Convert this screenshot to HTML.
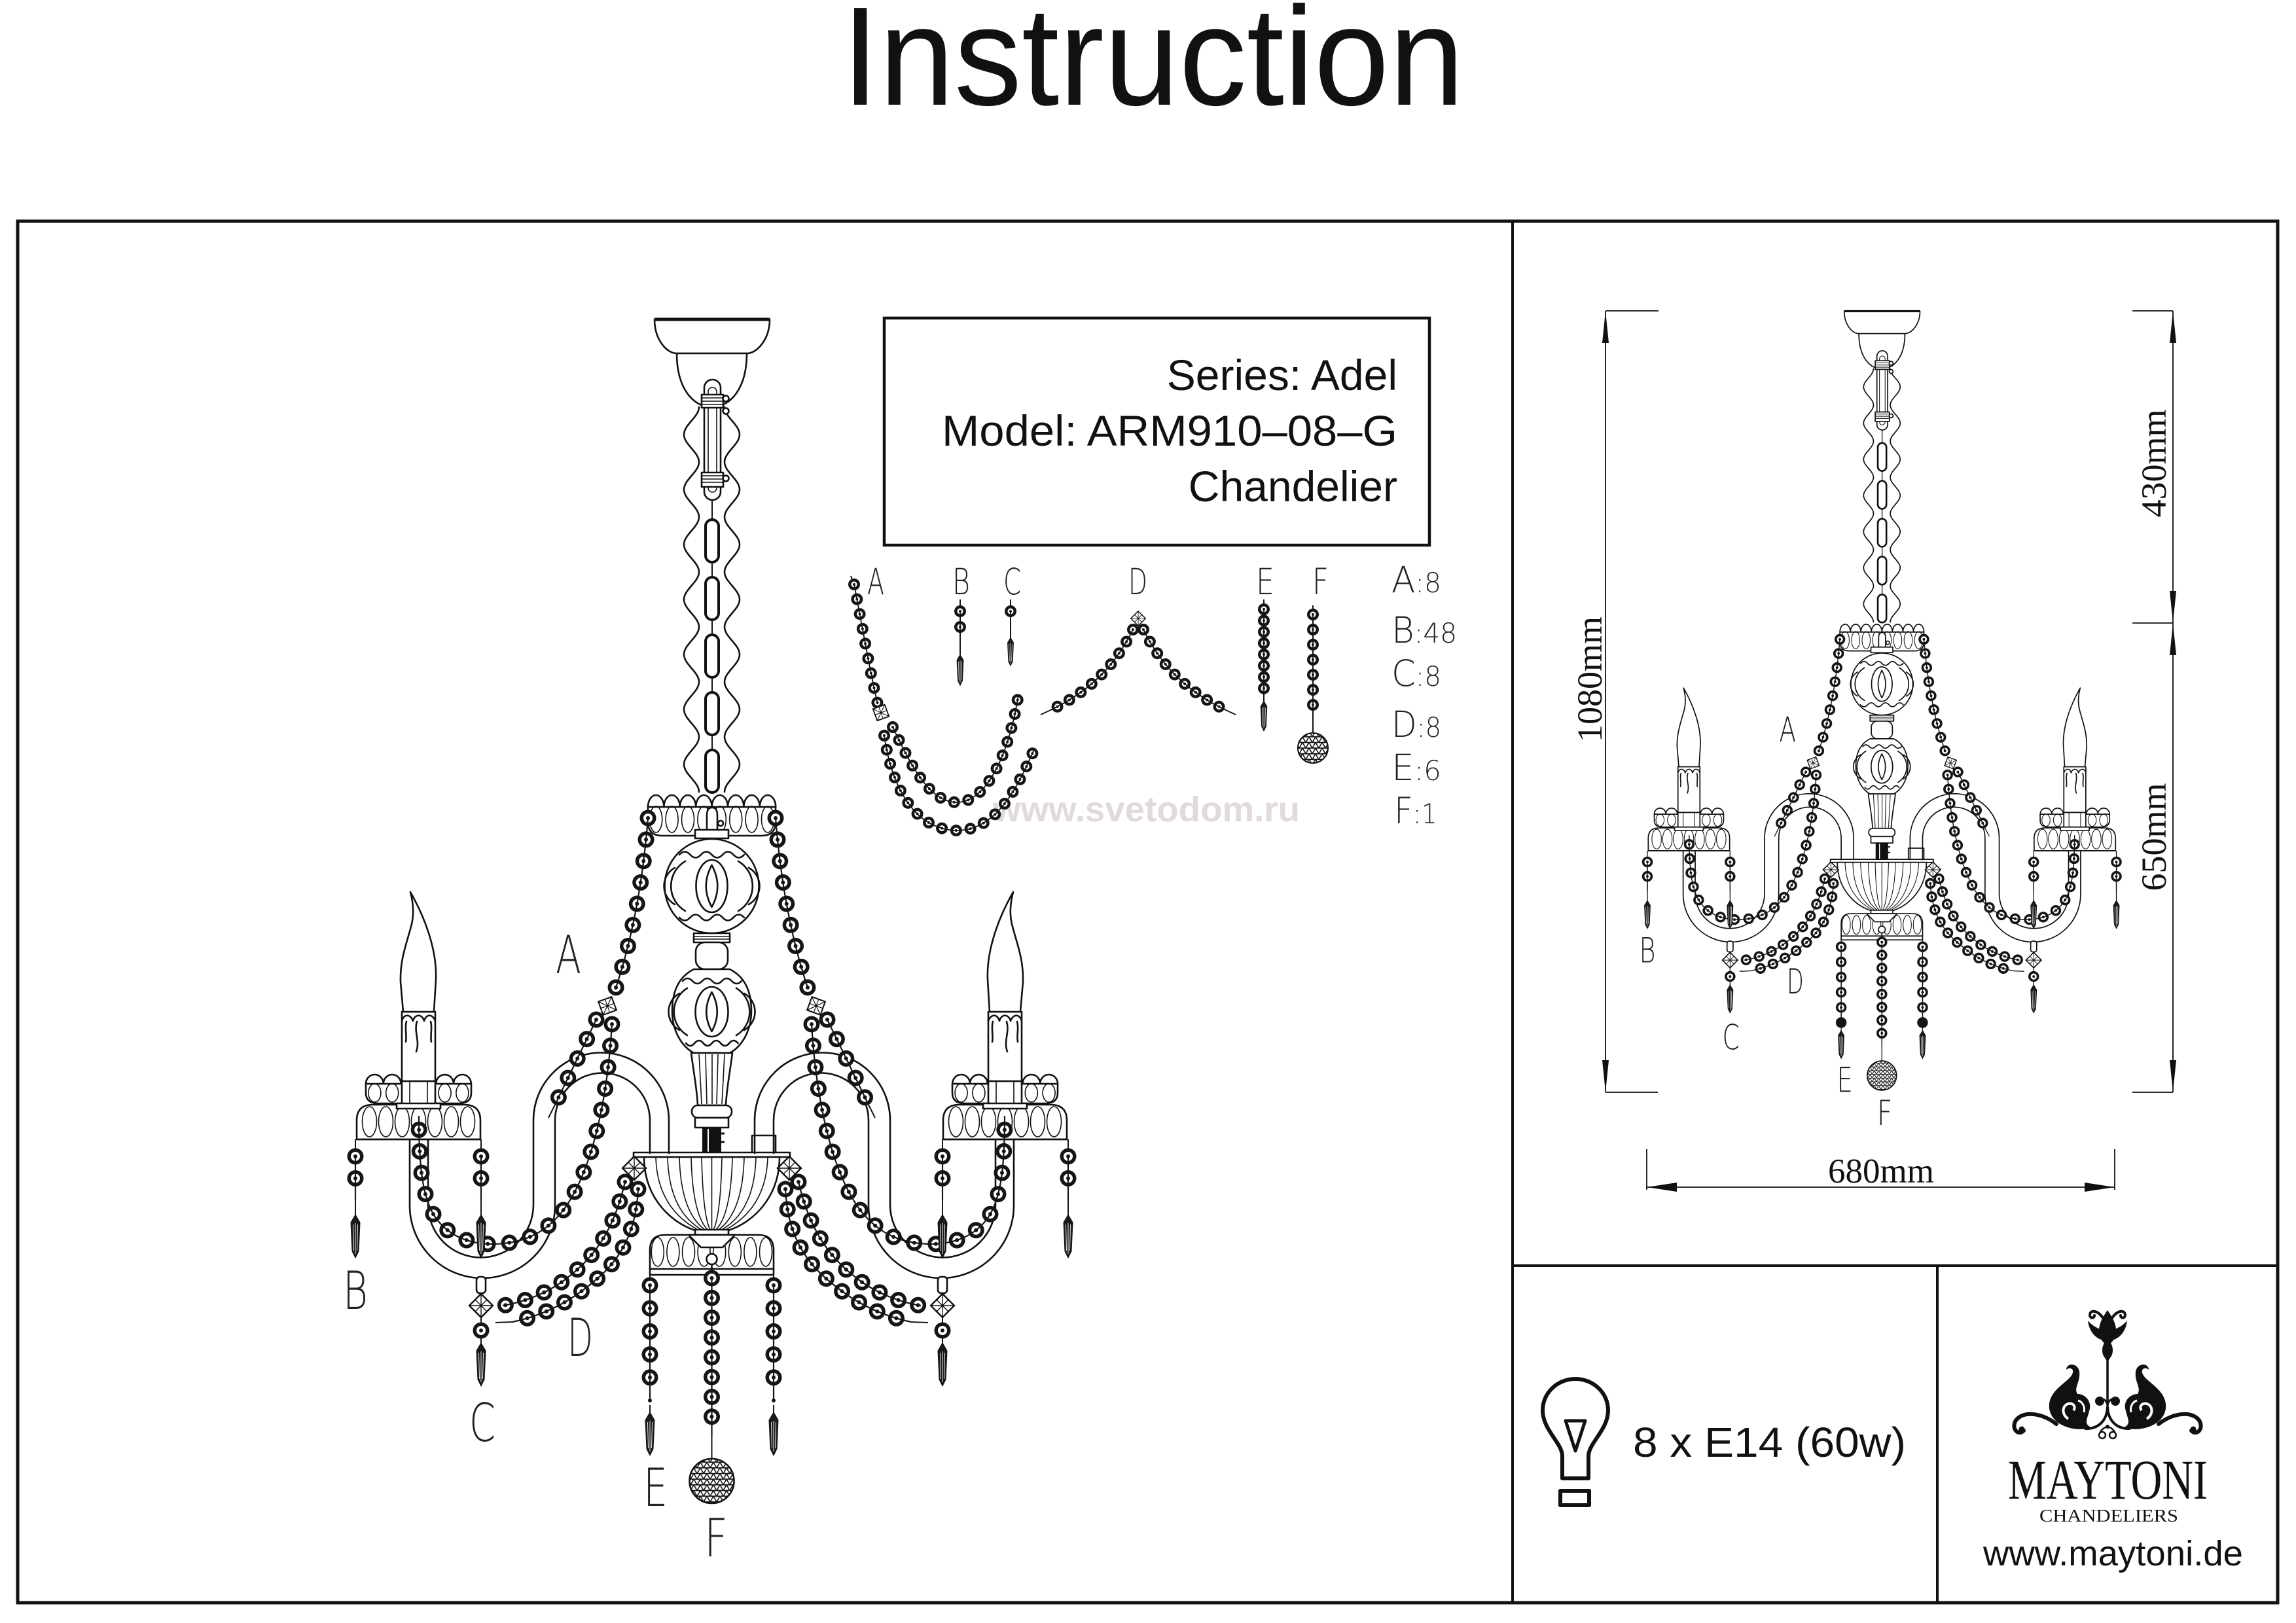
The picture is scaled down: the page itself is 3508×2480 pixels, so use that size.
<!DOCTYPE html>
<html><head><meta charset="utf-8"><title>Instruction</title>
<style>
html,body{margin:0;padding:0;background:#fff;width:3508px;height:2480px;overflow:hidden}
svg{display:block}
.ln{fill:none;stroke:#111;stroke-width:2.6;stroke-linejoin:round;stroke-linecap:round}
.lt{fill:none;stroke:#111;stroke-width:1.6}
.lw{fill:#fff;stroke:#111;stroke-width:2.6;stroke-linejoin:round}
.thr{fill:none;stroke:#151515;stroke-width:2}
.bA{fill:none;stroke:#151515;stroke-width:25;stroke-linecap:round;--on:0}
.bB{fill:none;stroke:#fff;stroke-width:14;stroke-linecap:round;--on:0}
.bC{fill:none;stroke:#151515;stroke-width:6;stroke-linecap:round;--on:0}
.bT{fill:none;stroke:#151515;stroke-width:2.2;stroke-linecap:butt;--on:5000}
.lA{fill:none;stroke:#151515;stroke-width:18;stroke-linecap:round;--on:0}
.lB{fill:none;stroke:#fff;stroke-width:9;stroke-linecap:round;--on:0}
.lC{fill:none;stroke:#151515;stroke-width:4;stroke-linecap:round;--on:0}
.lT{fill:none;stroke:#151515;stroke-width:1.8;stroke-linecap:butt;--on:5000}
.cad{font-family:"DejaVu Sans","Liberation Sans",sans-serif;font-weight:200;fill:#222}
.sans{font-family:"Liberation Sans",Arial,sans-serif;fill:#111}
.serif{font-family:"Liberation Serif","Times New Roman",serif;fill:#111}
</style></head>
<body>
<svg width="3508" height="2480" viewBox="0 0 3508 2480" xmlns="http://www.w3.org/2000/svg" xmlns:xlink="http://www.w3.org/1999/xlink">
<defs>
<g id="drop"><path d="M0,0 L7,12 L5,56 L0,66 L-5,56 L-7,12 Z" fill="#1a1a1a" stroke="#111" stroke-width="1"/><path d="M0,13 V60 M-3.5,15 L-2.5,55 M3.5,15 L2.5,55" stroke="#fff" stroke-width="0.9" fill="none"/></g>
<g id="dia"><path d="M0,-18 L18,0 L0,18 L-18,0 Z" fill="#fff" stroke="#111" stroke-width="2.4"/><path d="M-18,0 H18 M0,-18 V18 M-9,-9 L9,9 M9,-9 L-9,9" stroke="#111" stroke-width="1.4" fill="none"/></g>
<pattern id="mesh" width="10" height="8.66" patternUnits="userSpaceOnUse"><rect width="10" height="8.66" fill="#fff"/><path d="M0,0 H10 M0,0 L5,8.66 L10,0 M0,8.66 H10" stroke="#111" stroke-width="1.6" fill="none"/></pattern>

<g id="bm">
<path style="stroke-dasharray:var(--on) 33" d="M990,1250 Q978,1400 940,1512"/>
<path style="stroke-dasharray:var(--on) 33" d="M935,1565 C928,1680 905,1790 860,1850 C830,1888 795,1900 754,1901 C715,1901 685,1888 665,1860 C645,1830 640,1780 640,1705"/>
<path style="stroke-dasharray:var(--on) 33" d="M911,1558 L848,1688"/>
<path style="stroke-dasharray:var(--on) 31" d="M955,1806 C940,1870 915,1915 870,1950 C840,1975 800,1990 768,1995"/>
<path style="stroke-dasharray:var(--on) 31" d="M975,1817 C972,1880 950,1925 905,1960 C870,1990 830,2010 783,2020"/>
<path style="stroke-dasharray:var(--on) 33.5" d="M543,1767 V1834"/>
<path style="stroke-dasharray:var(--on) 33.5" d="M735,1767 V1834"/>
<path style="stroke-dasharray:var(--on) 33" d="M735,2033 V2033.5"/>
<path style="stroke-dasharray:var(--on) 35.2" d="M993,1964 V2140"/>
</g>
<g id="bc">
<path style="stroke-dasharray:var(--on) 30.25" d="M1087.5,1953 V2195"/>
</g>
<g id="bl">
<path style="stroke-dasharray:var(--on) 23" d="M1305,893 C1318,960 1330,1030 1341,1076"/>
<path style="stroke-dasharray:var(--on) 22" d="M1351,1124 C1362,1200 1395,1266 1460,1269 C1520,1270 1552,1210 1581,1143"/>
<path style="stroke-dasharray:var(--on) 22" d="M1364,1111 C1392,1170 1420,1226 1462,1226 C1505,1226 1540,1160 1556,1062"/>
<path style="stroke-dasharray:var(--on) 24" d="M1467,934 V982"/>
<path style="stroke-dasharray:var(--on) 21" d="M1544,934 V955"/>
<path style="stroke-dasharray:var(--on) 21" d="M1731,962 C1712,1000 1680,1050 1603,1086"/>
<path style="stroke-dasharray:var(--on) 21" d="M1747,962 C1766,1000 1798,1050 1875,1086"/>
<path style="stroke-dasharray:var(--on) 17.25" d="M1931,931 V1069"/>
<path style="stroke-dasharray:var(--on) 23" d="M2006,939 V1100"/>
</g>

<g id="half">
<path class="ln" d="M626,1741 V1842 A111,111 0 0 0 848,1842 V1712 A72.5,72.5 0 0 1 993,1712 V1762"/>
<path class="ln" d="M654,1741 V1841 A80.5,80.5 0 0 0 815,1841 V1712 A103.5,103.5 0 0 1 1022,1712 V1762"/>
<path class="thr" d="M543,1741 V1860 M735,1741 V1860 M735,1975 V2055 M993,1948 V2160 M848,1688 L838,1708 M783,2020 L757,2021"/>
<rect class="lw" x="728" y="1951" width="14" height="25" rx="5"/>
<path class="lw" d="M545,1741 V1712 Q545,1688 570,1688 H709 Q734,1688 734,1712 V1741 Z"/>
<g class="lt">
<ellipse cx="564.5" cy="1714" rx="11" ry="23"/><ellipse cx="589.5" cy="1714" rx="11" ry="23"/><ellipse cx="614.5" cy="1714" rx="11" ry="23"/><ellipse cx="639.5" cy="1714" rx="11" ry="23"/><ellipse cx="664.5" cy="1714" rx="11" ry="23"/><ellipse cx="689.5" cy="1714" rx="11" ry="23"/><ellipse cx="714.5" cy="1714" rx="11" ry="23"/>
</g>
<path class="ln" d="M545,1741 H734"/>
<path class="lw" d="M559,1656 V1670 Q559,1686 578,1686 H701 Q720,1686 720,1670 V1656 Z"/>
<path class="lw" d="M559,1656 a13.4,14 0 0 1 26.8,0 a13.4,14 0 0 1 26.8,0 a13.4,14 0 0 1 26.8,0 a13.4,14 0 0 1 26.8,0 a13.4,14 0 0 1 26.8,0 a13.4,14 0 0 1 26.8,0 Z"/>
<g class="lt">
<ellipse cx="572.4" cy="1670" rx="9.5" ry="14"/><ellipse cx="599.2" cy="1670" rx="9.5" ry="14"/><ellipse cx="626" cy="1670" rx="9.5" ry="14"/><ellipse cx="652.8" cy="1670" rx="9.5" ry="14"/><ellipse cx="679.6" cy="1670" rx="9.5" ry="14"/><ellipse cx="706.4" cy="1670" rx="9.5" ry="14"/>
</g>
<rect class="lw" x="614" y="1652" width="51" height="40"/>
<path class="lt" d="M626,1652 V1692 M653,1652 V1692"/>
<rect class="lw" x="606" y="1686" width="67" height="8"/>
<rect class="lw" x="614" y="1546" width="51" height="106"/>
<path class="ln" d="M614,1560 C617,1549 627,1549 631,1560 C634,1549 645,1549 648,1560 C651,1549 661,1549 665,1560"/>
<path class="ln" d="M637,1561 C632,1577 642,1590 636,1607 M621,1561 C618,1572 622,1582 620,1592 M658,1561 C661,1572 657,1582 659,1592"/>
<path class="lw" d="M627,1363 C648,1400 668,1450 666,1497 L663,1546 L616,1546 L612,1500 C611,1465 622,1440 629,1412 C633,1395 631,1378 627,1363 Z"/>
<use href="#bm" class="bA"/><use href="#bm" class="bB"/><use href="#bm" class="bC"/><use href="#bm" class="bT"/>
<use href="#drop" x="543" y="1856"/><use href="#drop" x="735" y="1856"/><use href="#drop" x="735" y="2052"/><use href="#drop" x="993" y="2158"/>
<use href="#dia" transform="translate(928,1537) rotate(25) scale(0.85)"/>
<use href="#dia" transform="translate(969,1785)"/>
<use href="#dia" transform="translate(735,1995)"/>
</g>

<g id="lgL" fill="#111">
<path d="M3214,2048 C3203,2046 3192,2036 3190,2018 C3197,2026 3205,2030 3212,2032 Z"/>
<path d="M3213,2014 C3206,2003 3194,2000 3193,2009 C3193,2015 3200,2015 3200,2010" fill="none" stroke="#111" stroke-width="4" stroke-linecap="round"/>
<path d="M3196,2182 C3160,2190 3128,2172 3131,2145 C3134,2122 3160,2112 3166,2100 C3170,2092 3163,2088 3157,2093 C3157,2082 3175,2082 3177,2096 C3179,2112 3168,2120 3174,2130 C3185,2130 3195,2140 3193,2152 C3190,2168 3182,2175 3196,2182 Z"/>
<path d="M3160,2168 C3150,2162 3150,2148 3160,2145 C3168,2143 3172,2150 3168,2155" fill="none" stroke="#fff" stroke-width="4"/>
<path d="M3175,2140 C3182,2142 3186,2150 3184,2158" fill="none" stroke="#fff" stroke-width="3"/>
<path d="M3142,2176 C3118,2157 3088,2156 3079,2172 C3073,2185 3085,2194 3092,2186" fill="none" stroke="#111" stroke-width="6" stroke-linecap="round"/>
<circle cx="3089" cy="2184" r="4.5"/>
<path d="M3220,2150 C3219,2172 3205,2184 3185,2183" fill="none" stroke="#111" stroke-width="4"/>
<path d="M3220,2146 C3217,2138 3212,2136 3208,2140" fill="none" stroke="#111" stroke-width="3"/>
<circle cx="3208" cy="2141" r="7"/>
<circle cx="3212" cy="2193" r="5" fill="none" stroke="#111" stroke-width="2.5"/>
<path d="M3219,2180 C3214,2182 3210,2185 3208,2190" fill="none" stroke="#111" stroke-width="2.5"/>
</g>
</defs>

<rect width="3508" height="2480" fill="#fff"/>

<!-- Title -->
<text class="sans" x="1286" y="160" font-size="215" textLength="951" lengthAdjust="spacingAndGlyphs">Instruction</text>

<!-- Frame -->
<rect x="27" y="338" width="3453" height="2111" fill="none" stroke="#111" stroke-width="5"/>
<path d="M2311,338 V2449 M2311,1934 H3480 M2960,1934 V2449" fill="none" stroke="#111" stroke-width="4"/>

<!-- Series box -->
<rect x="1351" y="486" width="833" height="347" fill="none" stroke="#111" stroke-width="4.5"/>
<text class="sans" x="2135" y="596" font-size="66" text-anchor="end">Series: Adel</text>
<text class="sans" x="1439" y="681" font-size="66" textLength="696" lengthAdjust="spacingAndGlyphs">Model: ARM910–08–G</text>
<text class="sans" x="2135" y="766" font-size="66" text-anchor="end">Chandelier</text>

<!-- watermark -->
<text x="1517" y="1255" font-family="Liberation Sans, Arial, sans-serif" font-weight="bold" font-size="54" fill="#e2dada" textLength="469" lengthAdjust="spacingAndGlyphs">www.svetodom.ru</text>

<!-- Main chandelier -->
<g id="ch">
<path class="lw" d="M1000,488 C1000,518 1018,540 1034,540 H1141 C1157,540 1176,518 1176,488 Z"/>
<path d="M1000,488 H1176" stroke="#111" stroke-width="5"/>
<path class="lw" d="M1034,540 C1034,592 1058,622 1087.5,622 C1117,622 1141,592 1141,540 Z"/>
<path class="ln" stroke-width="2.2" d="M1068,622 C1068,637 1045,649 1045,664 S1068,691 1068,706 S1045,733 1045,748 S1068,775 1068,790 S1045,817 1045,832 S1068,859 1068,874 S1045,901 1045,916 S1068,943 1068,958 S1045,985 1045,1000 S1068,1027 1068,1042 S1045,1069 1045,1084 S1068,1111 1068,1126 S1045,1153 1045,1168 S1068,1195 1068,1210"/>
<path class="ln" stroke-width="2.2" d="M1107,622 C1107,637 1130,649 1130,664 S1107,691 1107,706 S1130,733 1130,748 S1107,775 1107,790 S1130,817 1130,832 S1107,859 1107,874 S1130,901 1130,916 S1107,943 1107,958 S1130,985 1130,1000 S1107,1027 1107,1042 S1130,1069 1130,1084 S1107,1111 1107,1126 S1130,1153 1130,1168 S1107,1195 1107,1210"/>
<path class="thr" d="M1088,764 V1212"/>
<rect x="1078" y="794" width="20" height="65" rx="10" fill="#fff" stroke="#111" stroke-width="4"/>
<rect x="1078" y="882" width="20" height="65" rx="10" fill="#fff" stroke="#111" stroke-width="4"/>
<rect x="1078" y="970" width="20" height="65" rx="10" fill="#fff" stroke="#111" stroke-width="4"/>
<rect x="1078" y="1058" width="20" height="65" rx="10" fill="#fff" stroke="#111" stroke-width="4"/>
<rect x="1078" y="1146" width="20" height="65" rx="10" fill="#fff" stroke="#111" stroke-width="4"/>
<rect class="lw" x="1076" y="580" width="25" height="184" rx="12.5"/>
<rect class="lt" x="1082" y="592" width="13" height="160" rx="6.5"/>
<rect class="lw" x="1072" y="603" width="33" height="20"/>
<path class="lt" d="M1072,608 H1105 M1072,613 H1105 M1072,618 H1105"/>
<rect class="lw" x="1072" y="722" width="33" height="22"/>
<path class="lt" d="M1072,727 H1105 M1072,732 H1105 M1072,737 H1105"/>
<circle class="lw" cx="1109" cy="609" r="4.5"/><circle class="lw" cx="1109" cy="628" r="4.5"/><circle class="lw" cx="1109" cy="731" r="4.5"/>
<path class="lw" d="M990,1233 V1256 Q990,1277 1012,1277 H1163 Q1185,1277 1185,1256 V1233 Z"/>
<path class="lw" d="M990,1233 a12.2,18 0 0 1 24.4,0 a12.2,18 0 0 1 24.4,0 a12.2,18 0 0 1 24.4,0 a12.2,18 0 0 1 24.4,0 a12.2,18 0 0 1 24.4,0 a12.2,18 0 0 1 24.4,0 a12.2,18 0 0 1 24.4,0 a12.2,18 0 0 1 24.4,0 Z"/>
<g class="lt">
<ellipse cx="1002.2" cy="1252" rx="9.5" ry="20"/><ellipse cx="1026.6" cy="1252" rx="9.5" ry="20"/><ellipse cx="1051" cy="1252" rx="9.5" ry="20"/><ellipse cx="1075.4" cy="1252" rx="9.5" ry="20"/><ellipse cx="1099.8" cy="1252" rx="9.5" ry="20"/><ellipse cx="1124.2" cy="1252" rx="9.5" ry="20"/><ellipse cx="1148.6" cy="1252" rx="9.5" ry="20"/><ellipse cx="1173" cy="1252" rx="9.5" ry="20"/>
</g>
<path class="lw" d="M1080,1270 V1246 Q1080,1234 1088,1234 Q1096,1234 1096,1246 V1270 Z"/>
<circle class="lw" cx="1101" cy="1258" r="4"/>
<rect class="lw" x="1062" y="1268" width="51" height="13"/>
<circle class="lw" cx="1087.5" cy="1354" r="72"/>
<path class="ln" d="M1038,1306 q8.25,-9 16.5,0 t16.5,0 t16.5,0 t16.5,0 t16.5,0 t16.5,0"/>
<path class="ln" d="M1038,1402 q8.25,9 16.5,0 t16.5,0 t16.5,0 t16.5,0 t16.5,0 t16.5,0"/>
<ellipse class="ln" cx="1087.5" cy="1354" rx="24" ry="40"/>
<path class="ln" d="M1087.5,1322 Q1105,1354 1087.5,1386 Q1070,1354 1087.5,1322 Z"/>
<path class="ln" d="M1047,1316 A44,44 0 0 0 1047,1392 M1128,1316 A44,44 0 0 1 1128,1392 M1031,1326 A32,32 0 0 0 1031,1382 M1144,1326 A32,32 0 0 1 1144,1382"/>
<rect class="lw" x="1060" y="1426" width="55" height="14"/>
<path class="lt" d="M1060,1431 H1115 M1060,1435 H1115"/>
<rect class="lw" x="1063" y="1440" width="49" height="41" rx="14"/>
<path class="lw" d="M1060,1481 C1034,1494 1027,1520 1027,1545 C1027,1573 1040,1598 1060,1609 H1115 C1135,1598 1148,1573 1148,1545 C1148,1520 1141,1494 1115,1481 Z"/>
<path class="ln" d="M1043,1499 q7.5,-8 15,0 t15,0 t15,0 t15,0 t15,0 t15,0"/>
<path class="ln" d="M1048,1594 q6.6,8 13.25,0 t13.25,0 t13.25,0 t13.25,0 t13.25,0 t13.25,0"/>
<ellipse class="ln" cx="1087.5" cy="1546" rx="25" ry="38"/>
<path class="ln" d="M1087.5,1516 Q1104,1546 1087.5,1576 Q1071,1546 1087.5,1516 Z"/>
<path class="ln" d="M1050,1510 A42,42 0 0 0 1050,1582 M1125,1510 A42,42 0 0 1 1125,1582 M1038,1518 A32,32 0 0 0 1038,1574 M1137,1518 A32,32 0 0 1 1137,1574"/>
<path class="lw" d="M1056,1609 H1119 C1115,1640 1110,1665 1109,1689 H1066 C1065,1665 1060,1640 1056,1609 Z"/>
<path class="lt" d="M1068,1611 L1072,1687 M1078,1611 L1080,1687 M1088,1611 V1687 M1097,1611 L1095,1687 M1107,1611 L1103,1687"/>
<rect class="lw" x="1057" y="1689" width="61" height="19" rx="9"/>
<rect class="lw" x="1062" y="1708" width="51" height="15"/>
<rect x="1073" y="1723" width="29" height="39" fill="#111"/>
<path d="M1082,1725 V1760" stroke="#fff" stroke-width="2"/>
<path d="M1102,1732 h5 M1102,1745 h5" stroke="#111" stroke-width="3"/>
<rect class="lw" x="1149" y="1735" width="36" height="27"/>
<rect class="lw" x="968" y="1761" width="239" height="7"/>
<path class="lw" d="M984,1768 C984,1830 1025,1868 1062,1880 H1113 C1150,1868 1191,1830 1191,1768 Z"/>
<path class="lt" d="M1002,1768 Q1004,1845 1066,1879 M1020,1768 Q1022,1850 1072,1879 M1038,1768 Q1040,1852 1077,1879 M1056,1768 Q1058,1855 1081,1879 M1072,1768 Q1074,1858 1085,1879 M1087.5,1768 V1880 M1173,1768 Q1171,1845 1109,1879 M1155,1768 Q1153,1850 1103,1879 M1137,1768 Q1135,1852 1098,1879 M1119,1768 Q1117,1855 1094,1879 M1103,1768 Q1101,1858 1090,1879"/>
<rect class="lw" x="1062" y="1879" width="51" height="8"/>
<path class="lw" d="M993,1948 V1910 Q993,1887 1016,1887 H1159 Q1182,1887 1182,1910 V1948 Z"/>
<g class="lt">
<ellipse cx="1004.8" cy="1913" rx="9.5" ry="22"/><ellipse cx="1028.4" cy="1913" rx="9.5" ry="22"/><ellipse cx="1052" cy="1913" rx="9.5" ry="22"/><ellipse cx="1075.6" cy="1913" rx="9.5" ry="22"/><ellipse cx="1099.2" cy="1913" rx="9.5" ry="22"/><ellipse cx="1122.8" cy="1913" rx="9.5" ry="22"/><ellipse cx="1146.4" cy="1913" rx="9.5" ry="22"/><ellipse cx="1170" cy="1913" rx="9.5" ry="22"/>
</g>
<path class="ln" d="M993,1939 H1182"/>
<path class="lw" d="M1052,1887 H1123 L1104,1906 H1071 Z"/>
<circle class="lw" cx="1087.5" cy="1924" r="8"/>
<path class="ln" d="M1087.5,1932 V1948"/>

<use href="#half"/>
<use href="#half" transform="matrix(-1 0 0 1 2175 0)"/>

<path class="thr" d="M1087.5,1948 V2232"/>
<use href="#bc" class="bA"/><use href="#bc" class="bB"/><use href="#bc" class="bC"/><use href="#bc" class="bT"/>
<circle cx="1087.5" cy="2263" r="34" fill="url(#mesh)" stroke="#111" stroke-width="2.6"/>

<text class="cad" x="849" y="1487" font-size="80" textLength="39" lengthAdjust="spacingAndGlyphs">A</text>
<text class="cad" x="524" y="2000" font-size="80" textLength="38" lengthAdjust="spacingAndGlyphs">B</text>
<text class="cad" x="717" y="2202" font-size="80" textLength="40" lengthAdjust="spacingAndGlyphs">C</text>
<text class="cad" x="867" y="2072" font-size="80" textLength="39" lengthAdjust="spacingAndGlyphs">D</text>
<text class="cad" x="983" y="2301" font-size="80" textLength="37" lengthAdjust="spacingAndGlyphs">E</text>
<text class="cad" x="1076" y="2378" font-size="80" textLength="36" lengthAdjust="spacingAndGlyphs">F</text>
</g>

<!-- Legend parts -->
<path class="thr" d="M1300,880 L1305,893 M1603,1086 L1590,1092 M1875,1086 L1888,1092 M1467,916 V1000 M1544,916 V975 M1931,916 V1072 M2006,925 V1120"/>
<use href="#bl" class="lA"/><use href="#bl" class="lB"/><use href="#bl" class="lC"/><use href="#bl" class="lT"/>
<use href="#dia" transform="translate(1346,1089) rotate(25) scale(0.75)"/>
<use href="#dia" transform="translate(1739,945) scale(0.62)"/>
<use href="#drop" transform="translate(1467,1000) scale(0.72)"/>
<use href="#drop" transform="translate(1544,974) scale(0.66)"/>
<use href="#drop" transform="translate(1931,1071) scale(0.7)"/>
<circle cx="2006" cy="1143" r="23" fill="url(#mesh)" stroke="#111" stroke-width="2"/>

<text class="cad" x="1325" y="908" font-size="55" textLength="26" lengthAdjust="spacingAndGlyphs">A</text>
<text class="cad" x="1455" y="908" font-size="55" textLength="27" lengthAdjust="spacingAndGlyphs">B</text>
<text class="cad" x="1533" y="908" font-size="55" textLength="27" lengthAdjust="spacingAndGlyphs">C</text>
<text class="cad" x="1724" y="908" font-size="55" textLength="29" lengthAdjust="spacingAndGlyphs">D</text>
<text class="cad" x="1919" y="908" font-size="55" textLength="28" lengthAdjust="spacingAndGlyphs">E</text>
<text class="cad" x="2005" y="908" font-size="55" textLength="25" lengthAdjust="spacingAndGlyphs">F</text>

<text class="cad" x="2126" y="905" font-size="55" textLength="76" lengthAdjust="spacingAndGlyphs">A<tspan font-size="42">:8</tspan></text>
<text class="cad" x="2126" y="982" font-size="55" textLength="100" lengthAdjust="spacingAndGlyphs">B<tspan font-size="42">:48</tspan></text>
<text class="cad" x="2126" y="1048" font-size="55" textLength="76" lengthAdjust="spacingAndGlyphs">C<tspan font-size="42">:8</tspan></text>
<text class="cad" x="2126" y="1126" font-size="55" textLength="76" lengthAdjust="spacingAndGlyphs">D<tspan font-size="42">:8</tspan></text>
<text class="cad" x="2126" y="1192" font-size="55" textLength="76" lengthAdjust="spacingAndGlyphs">E<tspan font-size="42">:6</tspan></text>
<text class="cad" x="2130" y="1258" font-size="55" textLength="66" lengthAdjust="spacingAndGlyphs">F<tspan font-size="42">:1</tspan></text>

<!-- Right panel: scaled chandelier -->
<use href="#ch" transform="matrix(0.658 0 0 0.658 2159.7 154.4)"/>

<g fill="none" stroke="#111" stroke-width="1.8">
<path d="M2453,475 V1669 M2453,475 H2534 M2453,1669 H2533"/>
<path d="M3320,475 V1669 M3258,475 H3320 M3258,952 H3320 M3258,1669 H3320"/>
<path d="M2516,1814 H3231 M2516,1756 V1818 M3231,1756 V1818"/>
</g>
<g fill="#111">
<path d="M2453,475 L2458,524 L2448,524 Z"/>
<path d="M2453,1669 L2458,1620 L2448,1620 Z"/>
<path d="M3320,475 L3325,524 L3315,524 Z"/>
<path d="M3320,952 L3325,903 L3315,903 Z"/>
<path d="M3320,952 L3325,1001 L3315,1001 Z"/>
<path d="M3320,1669 L3325,1620 L3315,1620 Z"/>
<path d="M2516,1814 L2562,1807 L2562,1821 Z"/>
<path d="M3231,1814 L3185,1807 L3185,1821 Z"/>
</g>
<text class="serif" font-size="54" text-anchor="middle" transform="translate(2447,1038) rotate(-90)">1080mm</text>
<text class="serif" font-size="54" text-anchor="middle" transform="translate(3309,708) rotate(-90)">430mm</text>
<text class="serif" font-size="54" text-anchor="middle" transform="translate(3309,1279) rotate(-90)">650mm</text>
<text class="serif" x="2874" y="1807" font-size="53" text-anchor="middle">680mm</text>

<!-- Bulb panel -->
<g fill="none" stroke="#111" stroke-width="6" stroke-linejoin="round">
<path d="M2387,2259 V2225 C2387,2205 2357,2185 2357,2155 C2357,2128 2380,2107 2407,2107 C2434,2107 2457,2128 2457,2155 C2457,2185 2427,2205 2427,2225 V2259 Z"/>
<path d="M2392,2171 H2422 L2407,2217 Z" stroke-width="5"/>
<rect x="2384" y="2278" width="44" height="22"/>
</g>
<text class="sans" x="2495" y="2226" font-size="64" textLength="417" lengthAdjust="spacingAndGlyphs">8 x E14 (60w)</text>

<!-- Logo -->
<g fill="#111">
<path d="M3220,2002 C3227,2012 3233,2022 3233,2033 C3233,2045 3227,2052 3220,2056 C3213,2052 3207,2045 3207,2033 C3207,2022 3213,2012 3220,2002 Z"/>
<path d="M3220,2046 C3228,2053 3230,2064 3226,2072 L3222,2078 H3218 L3214,2072 C3210,2064 3212,2053 3220,2046 Z"/>
<path d="M3220,2075 V2160" stroke="#111" stroke-width="3.5"/>
<circle cx="3220" cy="2180" r="3"/>
</g>
<use href="#lgL"/>
<use href="#lgL" transform="matrix(-1 0 0 1 6440 0)"/>
<text class="serif" x="3068" y="2290" font-size="86" textLength="305" lengthAdjust="spacingAndGlyphs">MAYTONI</text>
<text class="serif" x="3116" y="2325" font-size="27" textLength="212" lengthAdjust="spacingAndGlyphs">CHANDELIERS</text>
<text class="sans" x="3030" y="2392" font-size="54" textLength="397" lengthAdjust="spacingAndGlyphs">www.maytoni.de</text>
</svg>
</body></html>
